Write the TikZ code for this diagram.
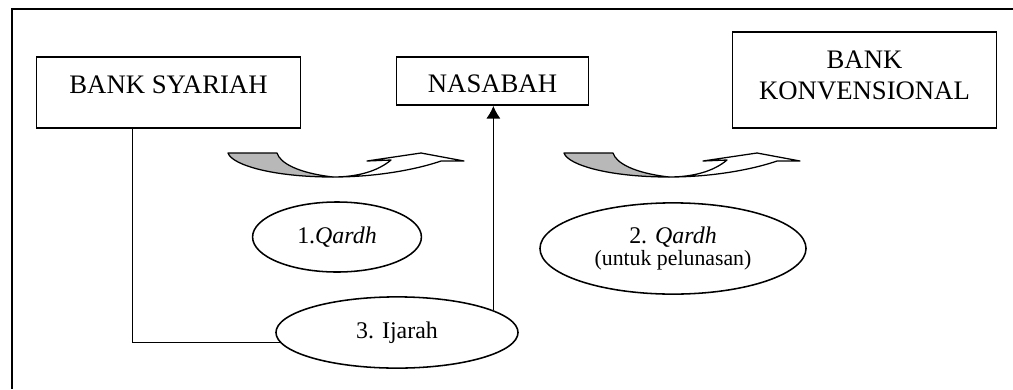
\documentclass[tikz,border=0pt]{standalone}
\usepackage{fontspec}
\setmainfont{Liberation Serif}
\usetikzlibrary{arrows.meta,shapes.geometric}

\begin{document}
\begin{tikzpicture}[x=0.025cm, y=-0.025cm, >={Latex[length=9pt,width=10pt]},
	box/.style={rectangle, draw, line width=1.2pt, font=\fontsize{19}{22}\selectfont},
	oval/.style={ellipse, draw, line width=1.1pt, inner sep=0pt, font=\fontsize{17}{16}\selectfont},
	band/.style={line width=0.9pt, line join=round}]
\useasboundingbox (0,0) rectangle (1013,389);

\draw[line width=1.4pt] (1013,9) -- (12,9) -- (12,389);

\node[box, minimum width=6.6cm, minimum height=1.78cm, text height=0.443cm, text depth=0.38cm] (syariah) at (168.5,92.5) {BANK SYARIAH};
\node[box, minimum width=4.8cm, minimum height=1.2cm, text height=0.563cm, text depth=0cm] (nasabah) at (492.5,81) {NASABAH};
\node[box, align=center, minimum width=6.6cm, minimum height=2.4cm, text height=1.218cm, text depth=0.25cm] (konv) at (864.5,80) {BANK\\KONVENSIONAL};

\node[oval, minimum width=4.22cm, minimum height=1.75cm] (qardh1) at (337,237) {1.\textit{Qardh}};
\node[oval, align=center, minimum width=6.65cm, minimum height=2.28cm] (qardh2) at (673,248.5) {2. \textit{Qardh}\\{\fontsize{15.5}{16}\selectfont(untuk pelunasan)}};
\node[oval, minimum width=6.05cm, minimum height=1.78cm] (ijarah) at (397,332.5) {3. Ijarah};

\begin{scope}[shift={(228,153)}]
	\filldraw[band, fill=black!28] (0,0) -- (49,0) .. controls (52,10) and (70,20) .. (105,24) .. controls (45,24) and (4,12) .. cycle;
	\filldraw[band, fill=white] (105,24) .. controls (130,24) and (150,18) .. (163,7) -- (139,8) -- (193,0) -- (236,8) -- (213,8) .. controls (190,16) and (150,24) .. cycle;
\end{scope}
\begin{scope}[shift={(564,153)}]
	\filldraw[band, fill=black!28] (0,0) -- (49,0) .. controls (52,10) and (70,20) .. (105,24) .. controls (45,24) and (4,12) .. cycle;
	\filldraw[band, fill=white] (105,24) .. controls (130,24) and (150,18) .. (163,7) -- (139,8) -- (193,0) -- (236,8) -- (213,8) .. controls (190,16) and (150,24) .. cycle;
\end{scope}

\draw[line width=0.8pt] ([xshift=-0.91cm]syariah.south) |- (ijarah.185);
\draw[line width=0.8pt, ->] (ijarah.13) -- (ijarah.13 |- nasabah.south);

\end{tikzpicture}
\end{document}
